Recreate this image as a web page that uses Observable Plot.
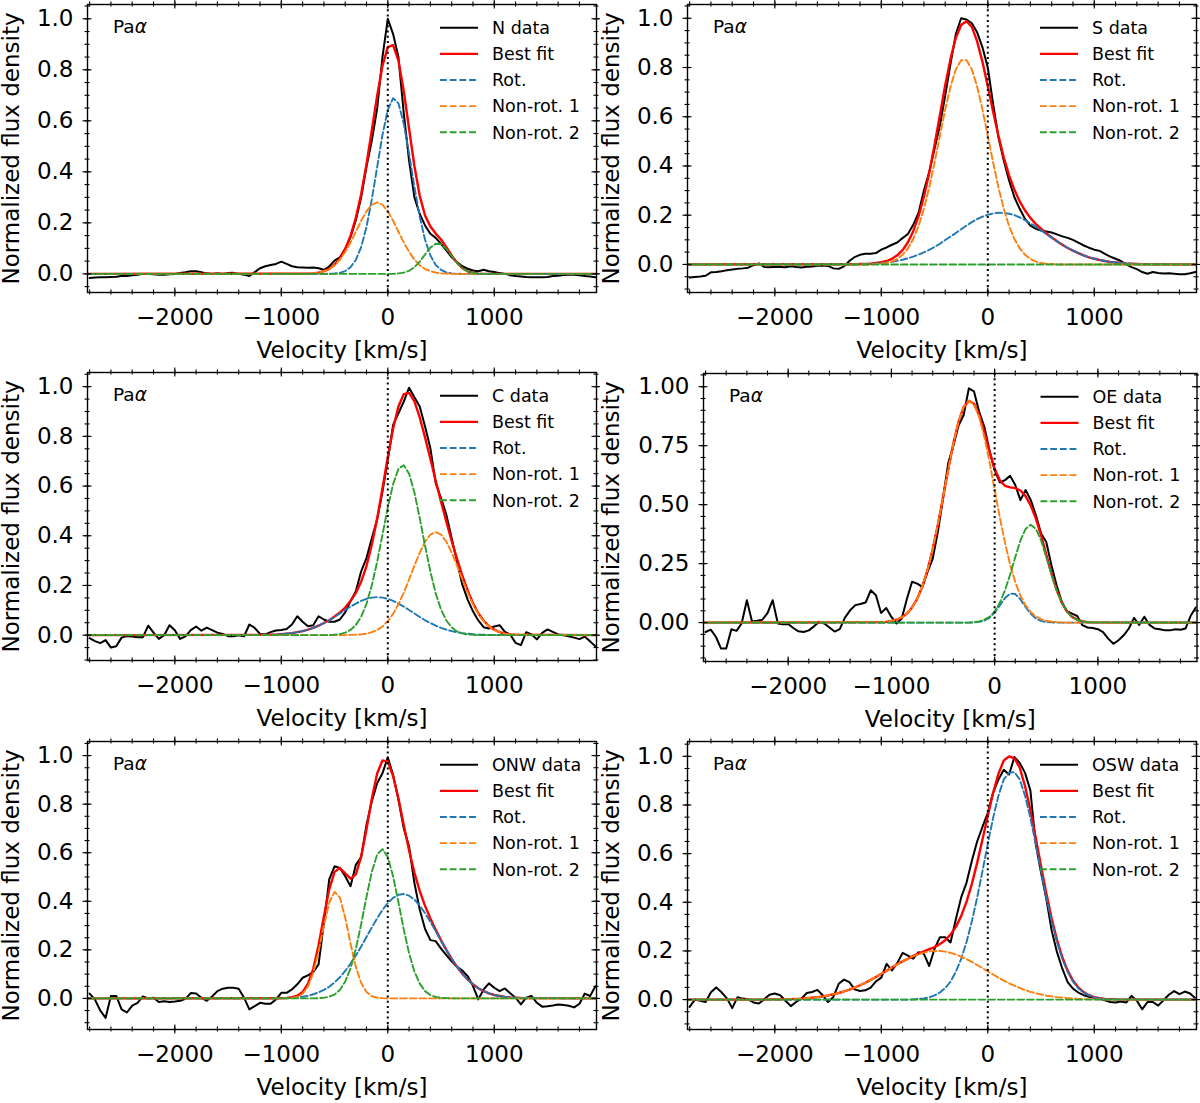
<!DOCTYPE html>
<html>
<head>
<meta charset="utf-8">
<script src="https://cdn.jsdelivr.net/npm/d3@7"></script>
<script src="https://cdn.jsdelivr.net/npm/@observablehq/plot@0.6"></script>
<style>
  body { margin: 0; background: #fff; }
  #fig { width: 1200px; height: 1103px; display: grid;
         grid-template-columns: 600px 600px; grid-template-rows: 368px 368px 367px; }
  #fig svg { display: block; }
</style>
</head>
<body>
<div id="fig"></div>
<script>
// ---- Pa-alpha line profiles: observed spectra (normalized flux density) ----
const vel = [-2800,-2750,-2700,-2650,-2600,-2550,-2500,-2450,-2400,-2350,
  -2300,-2250,-2200,-2150,-2100,-2050,-2000,-1950,-1900,-1850,
  -1800,-1750,-1700,-1650,-1600,-1550,-1500,-1450,-1400,-1350,
  -1300,-1250,-1200,-1150,-1100,-1050,-1000,-950,-900,-850,
  -800,-750,-700,-650,-600,-550,-500,-450,-400,-350,
  -300,-250,-200,-150,-100,-50,0,50,100,150,
  200,250,300,350,400,450,500,550,600,650,
  700,750,800,850,900,950,1000,1050,1100,1150,
  1200,1250,1300,1350,1400,1450,1500,1550,1600,1650,
  1700,1750,1800,1850,1900,1950];

const nFlux = [-0.016,-0.014,-0.013,-0.013,-0.012,-0.011,-0.008,-0.008,-0.005,-0.003,
  0.0,0.0,-0.001,-0.003,-0.003,-0.001,0.0,0.003,0.006,0.01,
  0.01,0.006,0.002,0.0,0.002,0.0,0.003,0.004,0.0,-0.003,
  -0.008,0.007,0.022,0.03,0.035,0.039,0.048,0.039,0.03,0.026,
  0.025,0.024,0.025,0.022,0.016,0.029,0.052,0.065,0.098,0.144,
  0.21,0.30,0.42,0.523,0.647,0.85,1.0,0.94,0.85,0.63,
  0.444,0.30,0.235,0.19,0.157,0.141,0.118,0.092,0.065,0.046,
  0.03,0.02,0.013,0.01,0.016,0.01,0.007,0.003,0.0,-0.005,
  -0.008,-0.01,-0.012,-0.013,-0.013,-0.013,-0.012,-0.008,-0.007,-0.004,
  -0.003,-0.003,-0.005,-0.008,-0.01,-0.013];

const sFlux = [-0.053,-0.051,-0.049,-0.046,-0.032,-0.031,-0.028,-0.024,-0.021,-0.018,
  -0.016,-0.013,-0.003,0.004,-0.01,-0.011,-0.009,-0.01,-0.011,-0.007,
  -0.01,-0.012,-0.009,-0.008,-0.005,-0.004,-0.006,-0.016,-0.018,-0.008,
  0.014,0.03,0.039,0.043,0.043,0.046,0.06,0.069,0.08,0.089,
  0.107,0.124,0.161,0.21,0.30,0.375,0.47,0.564,0.686,0.815,
  0.936,1.0,0.995,0.98,0.943,0.882,0.80,0.652,0.517,0.422,
  0.341,0.273,0.226,0.185,0.158,0.145,0.138,0.134,0.13,0.122,
  0.114,0.108,0.10,0.089,0.077,0.068,0.06,0.055,0.043,0.032,
  0.023,0.014,0.0,-0.011,-0.019,-0.031,-0.038,-0.031,-0.035,-0.037,
  -0.036,-0.038,-0.04,-0.04,-0.036,-0.031];

const cFlux = [-0.012,-0.024,-0.032,-0.02,-0.05,-0.045,-0.01,-0.004,-0.005,-0.008,
  -0.008,0.038,0.01,-0.015,0.0,0.04,0.02,-0.015,-0.005,0.02,
  0.035,0.018,0.03,0.02,0.01,0.005,-0.004,-0.004,0.0,-0.005,
  0.043,0.029,0.005,0.003,0.012,0.019,0.021,0.025,0.043,0.076,
  0.054,0.036,0.04,0.076,0.063,0.054,0.054,0.063,0.092,0.137,
  0.177,0.257,0.31,0.39,0.465,0.578,0.705,0.846,0.893,0.94,
  0.996,0.957,0.92,0.84,0.752,0.612,0.552,0.485,0.39,0.297,
  0.203,0.143,0.096,0.059,0.032,0.027,0.035,0.04,0.013,0.003,
  -0.031,-0.04,0.012,0.003,-0.017,0.009,0.023,0.013,0.003,0.0,
  -0.005,-0.01,-0.016,-0.006,-0.025,-0.045];

const oeFlux = [-0.04,-0.03,-0.06,-0.11,-0.11,-0.028,-0.035,-0.003,0.095,0.005,
  0.008,0.012,0.04,0.095,-0.004,-0.007,-0.006,-0.023,-0.037,-0.04,
  -0.033,-0.016,0.003,-0.004,-0.021,-0.038,-0.028,0.021,0.052,0.074,
  0.079,0.085,0.137,0.116,0.041,0.062,0.024,-0.004,0.017,0.10,
  0.173,0.165,0.151,0.215,0.27,0.385,0.526,0.675,0.75,0.835,
  0.88,0.993,0.98,0.894,0.83,0.73,0.646,0.594,0.604,0.622,
  0.583,0.519,0.562,0.519,0.455,0.378,0.342,0.243,0.158,0.088,
  0.048,0.038,0.028,-0.011,-0.021,-0.023,-0.028,-0.04,-0.068,-0.09,
  -0.075,-0.054,-0.025,0.02,-0.01,0.025,-0.01,-0.025,-0.028,-0.033,
  -0.033,-0.028,-0.03,-0.025,0.03,0.065];

const onwFlux = [0.02,-0.005,-0.05,-0.08,0.01,0.01,-0.045,-0.058,-0.03,-0.018,
  0.008,0.0,0.003,-0.015,-0.012,-0.015,-0.013,-0.01,-0.002,0.022,
  0.02,0.003,-0.01,0.008,0.03,0.04,0.044,0.044,0.04,0.003,
  -0.045,-0.032,-0.018,-0.022,-0.022,-0.004,0.023,0.023,0.037,0.058,
  0.085,0.095,0.108,0.14,0.31,0.49,0.544,0.537,0.503,0.462,
  0.55,0.582,0.715,0.811,0.886,0.927,0.993,0.92,0.818,0.70,
  0.626,0.475,0.366,0.286,0.24,0.236,0.205,0.178,0.153,0.13,
  0.115,0.092,0.051,-0.004,0.037,0.062,0.044,0.03,0.041,0.021,
  0.003,-0.025,0.003,0.01,-0.018,-0.034,-0.032,-0.029,-0.025,-0.027,
  -0.03,-0.037,-0.022,0.02,0.01,0.05];

const oswFlux = [-0.03,0.0,-0.005,-0.01,0.03,0.05,0.03,0.005,-0.035,0.01,
  0.004,0.001,-0.012,-0.016,0.001,0.02,0.025,0.018,-0.005,-0.027,
  -0.01,0.004,0.027,0.031,0.04,0.018,-0.01,0.011,0.065,0.082,
  0.072,0.042,0.035,0.038,0.049,0.075,0.09,0.147,0.12,0.15,
  0.192,0.181,0.168,0.195,0.188,0.138,0.209,0.256,0.256,0.235,
  0.33,0.42,0.48,0.57,0.65,0.71,0.768,0.85,0.905,0.945,
  0.925,0.997,0.973,0.932,0.86,0.64,0.522,0.413,0.284,0.195,
  0.127,0.072,0.045,0.029,0.018,0.012,0.007,0.004,-0.003,-0.01,
  -0.012,-0.008,-0.012,0.015,-0.005,-0.04,-0.01,-0.01,-0.025,-0.003,
  0.02,0.035,0.022,0.033,0.025,0.005];

// ---- Best fit and its Gaussian components, sampled on per-region velocity grids ----
const flatVel = [-2820, 1960];
const flatZero = [0, 0];

const nModelVel = [-2820,-750,-700,-650,-600,-550,-500,-450,-400,-350,-300,-250,-200,-150,-100,-50,0,
  50,100,150,200,250,300,350,400,450,500,550,600,650,700,750,800,850,900,1960];
const nFit = [0,.001,.002,.005,.011,.020,.036,.060,.097,.149,.220,.313,.430,.563,.698,.816,.889,
  .897,.836,.717,.569,.423,.306,.229,.186,.158,.135,.105,.072,.044,.022,.010,.004,.001,0,0];
const nRot = [0,0,0,0,0,.001,.002,.004,.011,.026,.055,.105,.184,.292,.418,.545,.643,
  .689,.669,.589,.471,.341,.224,.134,.072,.035,.016,.006,.002,.001,0,0,0,0,0,0];
const nNonRot1 = [0,.001,.002,.005,.011,.019,.034,.056,.086,.123,.165,.208,.246,.271,.280,.271,.246,
  .208,.165,.123,.086,.056,.034,.019,.011,.005,.002,.001,0,0,0,0,0,0,0,0];
const nNonRot2 = [0,0,0,0,0,0,0,0,0,0,0,0,0,0,0,0,0,
  0,.002,.005,.012,.026,.048,.076,.103,.118,.117,.098,.070,.043,.022,.010,.004,.001,0,0];

const sModelVel = [-2820,-1300,-1250,-1200,-1150,-1100,-1050,-1000,-950,-900,-850,-800,-750,-700,-650,-600,
  -550,-500,-450,-400,-350,-300,-250,-200,-150,-100,-50,0,50,100,150,200,250,300,350,400,450,500,
  550,600,650,700,750,800,850,900,950,1000,1050,1100,1150,1200,1250,1300,1350,1400,1450,1500,1960];
const sFit = [0,.001,.001,.002,.002,.003,.006,.009,.014,.023,.037,.058,.090,.135,.196,.275,
  .372,.485,.606,.728,.835,.921,.973,.988,.965,.906,.823,.724,.621,.523,.435,.362,.303,.256,.219,.189,.165,.145,
  .126,.110,.094,.080,.067,.056,.046,.037,.029,.023,.018,.014,.010,.008,.006,.004,.003,.002,.001,.001,0];
const sRot = [0,.001,.001,.002,.002,.003,.004,.006,.008,.011,.015,.019,.025,.032,.040,.049,
  .059,.071,.084,.099,.113,.128,.143,.158,.172,.184,.194,.202,.207,.210,.209,.206,.200,.191,.180,.167,.153,.139,
  .123,.108,.094,.080,.067,.056,.046,.037,.029,.023,.018,.014,.010,.008,.006,.004,.003,.002,.001,.001,0];
const sNonRot1 = [0,0,0,0,0,0,.002,.003,.006,.012,.022,.039,.065,.103,.156,.226,
  .313,.414,.522,.629,.722,.793,.830,.830,.793,.722,.629,.522,.414,.313,.226,.156,.103,.065,.039,.022,.012,.006,
  .003,.002,0,0,0,0,0,0,0,0,0,0,0,0,0,0,0,0,0,0,0];

const cModelVel = [-2820,-1200,-1150,-1100,-1050,-1000,-950,-900,-850,-800,-750,-700,-650,-600,-550,-500,
  -450,-400,-350,-300,-250,-200,-150,-100,-50,0,50,100,150,200,250,300,350,400,450,500,
  550,600,650,700,750,800,850,900,950,1000,1050,1100,1150,1200,1960];
const cFit = [0,.001,.001,.002,.002,.004,.006,.008,.012,.016,.022,.029,.038,.049,.060,.075,
  .091,.111,.137,.170,.215,.278,.364,.469,.590,.716,.832,.920,.970,.975,.941,.876,.796,.710,.621,.537,
  .457,.379,.307,.239,.180,.129,.088,.058,.036,.022,.012,.006,.003,.002,0];
const cRot = [0,.001,.001,.002,.002,.004,.006,.008,.012,.016,.022,.029,.038,.049,.060,.073,
  .087,.101,.115,.127,.138,.146,.151,.153,.151,.146,.138,.127,.115,.101,.087,.073,.060,.049,.038,.029,
  .022,.016,.012,.008,.006,.004,.002,.002,.001,.001,0,0,0,0,0];
const cNonRot1 = [0,0,0,0,0,0,0,0,0,0,0,0,0,0,0,0,
  0,0,.001,.002,.003,.006,.012,.021,.035,.056,.086,.124,.171,.224,.280,.332,.376,.405,.415,.405,
  .376,.332,.280,.224,.171,.124,.086,.056,.035,.021,.012,.006,.003,.002,0];
const cNonRot2 = [0,0,0,0,0,0,0,0,0,0,0,0,0,0,0,.002,
  .004,.010,.021,.041,.074,.126,.201,.295,.404,.514,.608,.669,.684,.650,.574,.471,.360,.256,.168,.103,
  .059,.031,.015,.007,.003,.001,0,0,0,0,0,0,0,0,0];

const oeModelVel = [-2820,-1100,-1050,-1000,-950,-900,-850,-800,-750,-700,-650,-600,-550,-500,-450,-400,
  -350,-300,-250,-200,-150,-100,-50,0,50,100,150,200,250,300,350,400,450,500,550,600,650,700,750,800,
  850,900,950,1960];
const oeFit = [0,.002,.003,.007,.012,.022,.038,.064,.101,.153,.223,.311,.415,.530,.648,.759,
  .851,.914,.940,.928,.880,.807,.725,.652,.603,.580,.573,.570,.560,.536,.496,.440,.370,.288,.209,.139,.085,.047,.024,.012,
  .005,.002,.001,0];
const oeRot = [0,0,0,0,0,0,0,0,0,0,0,0,0,0,0,0,
  0,0,0,.001,.003,.008,.020,.042,.073,.104,.123,.121,.098,.066,.037,.017,.007,.002,.001,0,0,0,0,0,
  0,0,0,0];
const oeNonRot1 = [0,.002,.003,.007,.012,.022,.038,.064,.101,.153,.223,.311,.415,.530,.648,.759,
  .851,.914,.940,.925,.872,.787,.681,.563,.446,.339,.246,.171,.114,.073,.044,.026,.015,.008,.004,.002,.001,0,0,0,
  0,0,0,0];
const oeNonRot2 = [0,0,0,0,0,0,0,0,0,0,0,0,0,0,0,0,
  0,0,0,.002,.005,.012,.024,.047,.084,.137,.204,.278,.348,.397,.415,.397,.348,.278,.204,.137,.084,.047,.024,.012,
  .005,.002,.001,0];

const onwModelVel = [-2820,-1000,-950,-900,-850,-800,-750,-700,-650,-600,-550,-500,-450,-400,-350,-300,
  -250,-200,-150,-100,-50,0,50,100,150,200,250,300,350,400,450,500,550,600,650,700,750,800,850,900,
  950,1000,1050,1100,1150,1200,1250,1960];
const onwFit = [0,.001,.002,.005,.011,.026,.060,.122,.219,.337,.449,.521,.537,.515,.493,.511,
  .584,.697,.822,.926,.980,.975,.916,.823,.714,.609,.518,.443,.381,.329,.283,.239,.200,.163,.130,.102,.078,.058,.042,.030,
  .021,.014,.010,.006,.004,.003,.002,0];
const onwRot = [0,.001,.002,.003,.005,.007,.011,.017,.025,.035,.048,.066,.087,.113,.143,.177,
  .214,.253,.292,.330,.364,.393,.414,.427,.430,.423,.407,.382,.351,.315,.277,.237,.199,.163,.130,.102,.078,.058,.042,.030,
  .021,.014,.010,.006,.004,.003,.002,0];
const onwNonRot1 = [0,0,0,.002,.006,.019,.049,.105,.193,.299,.394,.439,.415,.333,.226,.130,
  .064,.026,.009,.003,.001,0,0,0,0,0,0,0,0,0,0,0,0,0,0,0,0,0,0,0,
  0,0,0,0,0,0,0,0];
const onwNonRot2 = [0,0,0,0,0,0,0,0,.001,.003,.007,.016,.035,.069,.124,.204,
  .306,.418,.521,.593,.615,.582,.502,.396,.284,.186,.111,.061,.030,.014,.006,.002,.001,0,0,0,0,0,0,0,
  0,0,0,0,0,0,0,0];

const oswModelVel = [-2820,-2100,-2050,-2000,-1950,-1900,-1850,-1800,-1750,-1700,-1650,-1600,-1550,-1500,-1450,-1400,
  -1350,-1300,-1250,-1200,-1150,-1100,-1050,-1000,-950,-900,-850,-800,-750,-700,-650,-600,-550,-500,-450,-400,
  -350,-300,-250,-200,-150,-100,-50,0,50,100,150,200,250,300,350,400,450,500,550,600,
  650,700,750,800,850,900,950,1000,1050,1100,1150,1200,1960];
const oswFit = [0,0,.001,.001,.001,.002,.002,.003,.004,.006,.008,.010,.013,.017,.022,.027,
  .034,.041,.049,.059,.069,.081,.093,.106,.119,.132,.145,.157,.168,.180,.189,.198,.207,.216,.228,.244,
  .267,.299,.343,.402,.475,.562,.658,.756,.850,.928,.983,1.0,.992,.953,.877,.779,.666,.549,.436,.333,
  .246,.174,.119,.078,.050,.031,.018,.010,.006,.003,.002,.001,0];
const oswRot = [0,0,0,0,0,0,0,0,0,0,0,0,0,0,0,0,
  0,0,0,0,0,0,0,0,0,0,0,0,0,.001,.003,.005,.009,.017,.029,.047,
  .074,.114,.167,.236,.321,.419,.528,.640,.747,.838,.905,.933,.935,.905,.838,.747,.640,.528,.419,.321,
  .236,.167,.114,.074,.047,.029,.017,.009,.005,.003,.001,.001,0];
const oswNonRot1 = [0,0,.001,.001,.001,.002,.002,.003,.004,.006,.008,.010,.013,.017,.022,.027,
  .034,.041,.049,.059,.069,.081,.093,.106,.119,.132,.145,.157,.168,.178,.187,.193,.198,.200,.200,.197,
  .192,.185,.177,.166,.155,.142,.129,.116,.103,.090,.078,.067,.057,.048,.039,.032,.026,.021,.016,.013,
  .010,.008,.006,.004,.003,.002,.002,.001,.001,0,0,0,0];

// ---- Axis ticks ----
const xDomain = [-2820, 1960];
const xMajorTicks = [-2000, -1000, 0, 1000];
const xMinorTicks = [-2800,-2600,-2400,-2200,-2000,-1800,-1600,-1400,-1200,-1000,-800,-600,-400,-200,
  0,200,400,600,800,1000,1200,1400,1600,1800];
const yMajorTicksA = [0, 0.2, 0.4, 0.6, 0.8, 1.0];
const yMajorTicksB = [0, 0.25, 0.5, 0.75, 1.0];
const yMinorTicks = [-0.15,-0.1,-0.05,0,0.05,0.1,0.15,0.2,0.25,0.3,0.35,0.4,0.45,0.5,0.55,0.6,0.65,
  0.7,0.75,0.8,0.85,0.9,0.95,1.0,1.05];

const panels = [
  {name: "N", flux: nFlux, mv: nModelVel, fit: nFit, rot: nRot, n1: nNonRot1, n2: nNonRot2,
   yDomain: [-0.073, 1.056], yTicks: yMajorTicksA, yFmt: ".1f", ml: 87, mr: 4, mt: 4, height: 368},
  {name: "S", flux: sFlux, mv: sModelVel, fit: sFit, rot: sRot, n1: sNonRot1, n2: null,
   yDomain: [-0.114, 1.056], yTicks: yMajorTicksA, yFmt: ".1f", ml: 87, mr: 4, mt: 4, height: 368},
  {name: "C", flux: cFlux, mv: cModelVel, fit: cFit, rot: cRot, n1: cNonRot1, n2: cNonRot2,
   yDomain: [-0.102, 1.057], yTicks: yMajorTicksA, yFmt: ".1f", ml: 87, mr: 4, mt: 4, height: 368},
  {name: "OE", flux: oeFlux, mv: oeModelVel, fit: oeFit, rot: oeRot, n1: oeNonRot1, n2: oeNonRot2,
   yDomain: [-0.165, 1.056], yTicks: yMajorTicksB, yFmt: ".2f", ml: 103, mr: 3.5, mt: 5, height: 368},
  {name: "ONW", flux: onwFlux, mv: onwModelVel, fit: onwFit, rot: onwRot, n1: onwNonRot1, n2: onwNonRot2,
   yDomain: [-0.128, 1.058], yTicks: yMajorTicksA, yFmt: ".1f", ml: 87, mr: 4, mt: 5, height: 367},
  {name: "OSW", flux: oswFlux, mv: oswModelVel, fit: oswFit, rot: oswRot, n1: oswNonRot1, n2: null,
   yDomain: [-0.123, 1.061], yTicks: yMajorTicksA, yFmt: ".1f", ml: 87, mr: 4, mt: 5, height: 367}
];

const COLORS = {data: "#000000", fit: "#ff0000", rot: "#1f77b4", n1: "#ff7f0e", n2: "#2ca02c"};
const DASH = "6.8,2.9";
const W_DATA = 2.0, W_FIT = 2.4, W_DASH = 1.9;
const FONT = "DejaVu Sans";

function series(xs, ys) { return xs.map((v, i) => ({v, f: ys[i]})); }

function drawPanel(p) {
  const width = 600, height = p.height, frameH = 288;
  const mt = p.mt, mb = height - mt - frameH, ml = p.ml, mr = p.mr;
  const W = width - ml - mr, H = frameH;
  const majIn = 4.5, majOut = 4.5, minIn = 2.5, minOut = 2.5;
  const yMinor = yMinorTicks.filter(t => t >= p.yDomain[0] && t <= p.yDomain[1]);
  const tickStyle = {stroke: "black", strokeWidth: 1.1};

  const lineOpts = (color, dashed) => ({x: "v", y: "f", stroke: color, clip: true,
    strokeWidth: dashed ? W_DASH : W_FIT, strokeDasharray: dashed ? DASH : null});

  const svg = Plot.plot({
    width, height, marginTop: mt, marginBottom: mb, marginLeft: ml, marginRight: mr,
    x: {domain: xDomain},
    y: {domain: p.yDomain},
    style: {background: "white", color: "black", fontFamily: FONT, fontSize: "23px", overflow: "visible"},
    marks: [
      Plot.line(series(vel, p.flux), {x: "v", y: "f", stroke: COLORS.data, strokeWidth: W_DATA, clip: true}),
      Plot.line(series(p.mv, p.fit), lineOpts(COLORS.fit, false)),
      Plot.line(series(p.mv, p.rot), lineOpts(COLORS.rot, true)),
      Plot.line(series(p.mv, p.n1), lineOpts(COLORS.n1, true)),
      Plot.line(p.n2 ? series(p.mv, p.n2) : series(flatVel, flatZero), lineOpts(COLORS.n2, true)),
      Plot.ruleX([0], {stroke: "black", strokeWidth: 2, strokeDasharray: "2,3.3"}),
      Plot.frame({stroke: "black", strokeWidth: 1.4}),
      // tick marks crossing the frame on all four sides
      Plot.tickX(xMinorTicks, {x: d => d, ...tickStyle, insetTop: H - minIn, insetBottom: -minOut}),
      Plot.tickX(xMinorTicks, {x: d => d, ...tickStyle, insetTop: -minOut, insetBottom: H - minIn}),
      Plot.tickX(xMajorTicks, {x: d => d, ...tickStyle, insetTop: H - majIn, insetBottom: -majOut}),
      Plot.tickX(xMajorTicks, {x: d => d, ...tickStyle, insetTop: -majOut, insetBottom: H - majIn}),
      Plot.tickY(yMinor, {y: d => d, ...tickStyle, insetLeft: -minOut, insetRight: W - minIn}),
      Plot.tickY(yMinor, {y: d => d, ...tickStyle, insetLeft: W - minIn, insetRight: -minOut}),
      Plot.tickY(p.yTicks, {y: d => d, ...tickStyle, insetLeft: -majOut, insetRight: W - majIn}),
      Plot.tickY(p.yTicks, {y: d => d, ...tickStyle, insetLeft: W - majIn, insetRight: -majOut}),
      Plot.axisX({ticks: xMajorTicks, tickSize: 0, tickPadding: 16, tickFormat: d3.format("d"), label: null}),
      Plot.axisY({ticks: p.yTicks, tickSize: 0, tickPadding: 14, tickFormat: d3.format(p.yFmt), label: null}),
      Plot.text(["Velocity [km/s]"], {text: d => d, frameAnchor: "bottom", dy: 58, lineAnchor: "middle",
        textAnchor: "middle", fontSize: 23, fill: "black"}),
      Plot.text(["Normalized flux density"], {text: d => d, frameAnchor: "left", dx: 11.5 - ml,
        rotate: -90, lineAnchor: "middle", textAnchor: "middle", fontSize: 23, fill: "black"})
    ]
  });

  const root = d3.select(svg);
  // line label in the upper-left corner
  const lab = root.append("text")
    .attr("x", ml + 26).attr("y", mt + 29).attr("text-anchor", "start")
    .attr("font-family", FONT).attr("font-size", 18.5).attr("fill", "black");
  lab.append("tspan").text("Pa");
  lab.append("tspan").attr("font-style", "italic").text("α");

  // legend in the upper-right corner
  const items = [
    {label: `${p.name} data`, color: COLORS.data, dashed: false, w: W_DATA},
    {label: "Best fit", color: COLORS.fit, dashed: false, w: W_FIT},
    {label: "Rot.", color: COLORS.rot, dashed: true, w: W_DASH},
    {label: "Non-rot. 1", color: COLORS.n1, dashed: true, w: W_DASH},
    {label: "Non-rot. 2", color: COLORS.n2, dashed: true, w: W_DASH}
  ];
  const lg = root.append("g").attr("font-family", FONT).attr("font-size", 17.5)
    .attr("fill", "black").attr("text-anchor", "start");
  const right = width - mr;
  items.forEach((it, i) => {
    const y = mt + 23.8 + 26.1 * i;
    lg.append("line")
      .attr("x1", right - 156).attr("x2", right - 118).attr("y1", y).attr("y2", y)
      .attr("stroke", it.color).attr("stroke-width", it.w)
      .attr("stroke-dasharray", it.dashed ? DASH : null);
    lg.append("text").attr("x", right - 104).attr("y", y).attr("dy", "0.36em")
      .attr("text-anchor", "start").text(it.label);
  });
  return svg;
}

const fig = document.getElementById("fig");
panels.forEach(p => fig.appendChild(drawPanel(p)));
</script>
</body>
</html>
